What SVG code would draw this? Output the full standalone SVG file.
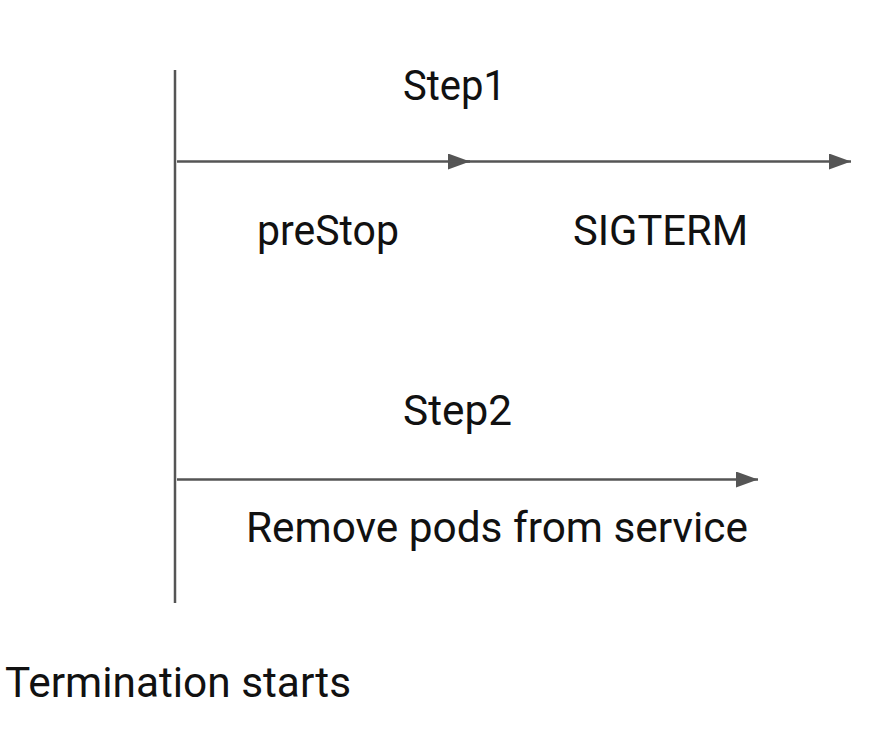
<svg xmlns="http://www.w3.org/2000/svg" width="880" height="735" viewBox="0 0 880 735">
<style>
text{font-family:Roboto,"Liberation Sans",sans-serif;font-size:42px;fill:#111}
.ln{stroke:#555;stroke-width:2.5;fill:none}
</style>
<defs>
<marker id="ah" viewBox="0 0 22 16" refX="22" refY="8" markerWidth="22" markerHeight="16" markerUnits="userSpaceOnUse" orient="auto">
<path d="M0,0 L22,8 L0,16 Z" fill="#555"/>
</marker>
</defs>
<rect width="880" height="735" fill="#fff"/>
<g id="connectors">
<line class="ln" x1="175" y1="70" x2="175" y2="603"/>
<line class="ln" x1="177" y1="161.5" x2="470" y2="161.5" marker-end="url(#ah)"/>
<line class="ln" x1="450" y1="161.5" x2="851" y2="161.5" marker-end="url(#ah)"/>
<line class="ln" x1="177" y1="479.5" x2="758" y2="479.5" marker-end="url(#ah)"/>
</g>
<g id="step1"><text x="403" y="100" textLength="103" lengthAdjust="spacingAndGlyphs">Step1</text></g>
<g id="prestop"><text x="257" y="245" textLength="142" lengthAdjust="spacingAndGlyphs">preStop</text></g>
<g id="sigterm"><text x="573" y="245" textLength="175" lengthAdjust="spacingAndGlyphs">SIGTERM</text></g>
<g id="step2"><text x="403" y="425" textLength="109" lengthAdjust="spacingAndGlyphs">Step2</text></g>
<g id="remove"><text x="246" y="542" textLength="502" lengthAdjust="spacingAndGlyphs">Remove pods from service</text></g>
<g id="termination"><text x="5" y="697" textLength="346" lengthAdjust="spacingAndGlyphs">Termination starts</text></g>
</svg>
